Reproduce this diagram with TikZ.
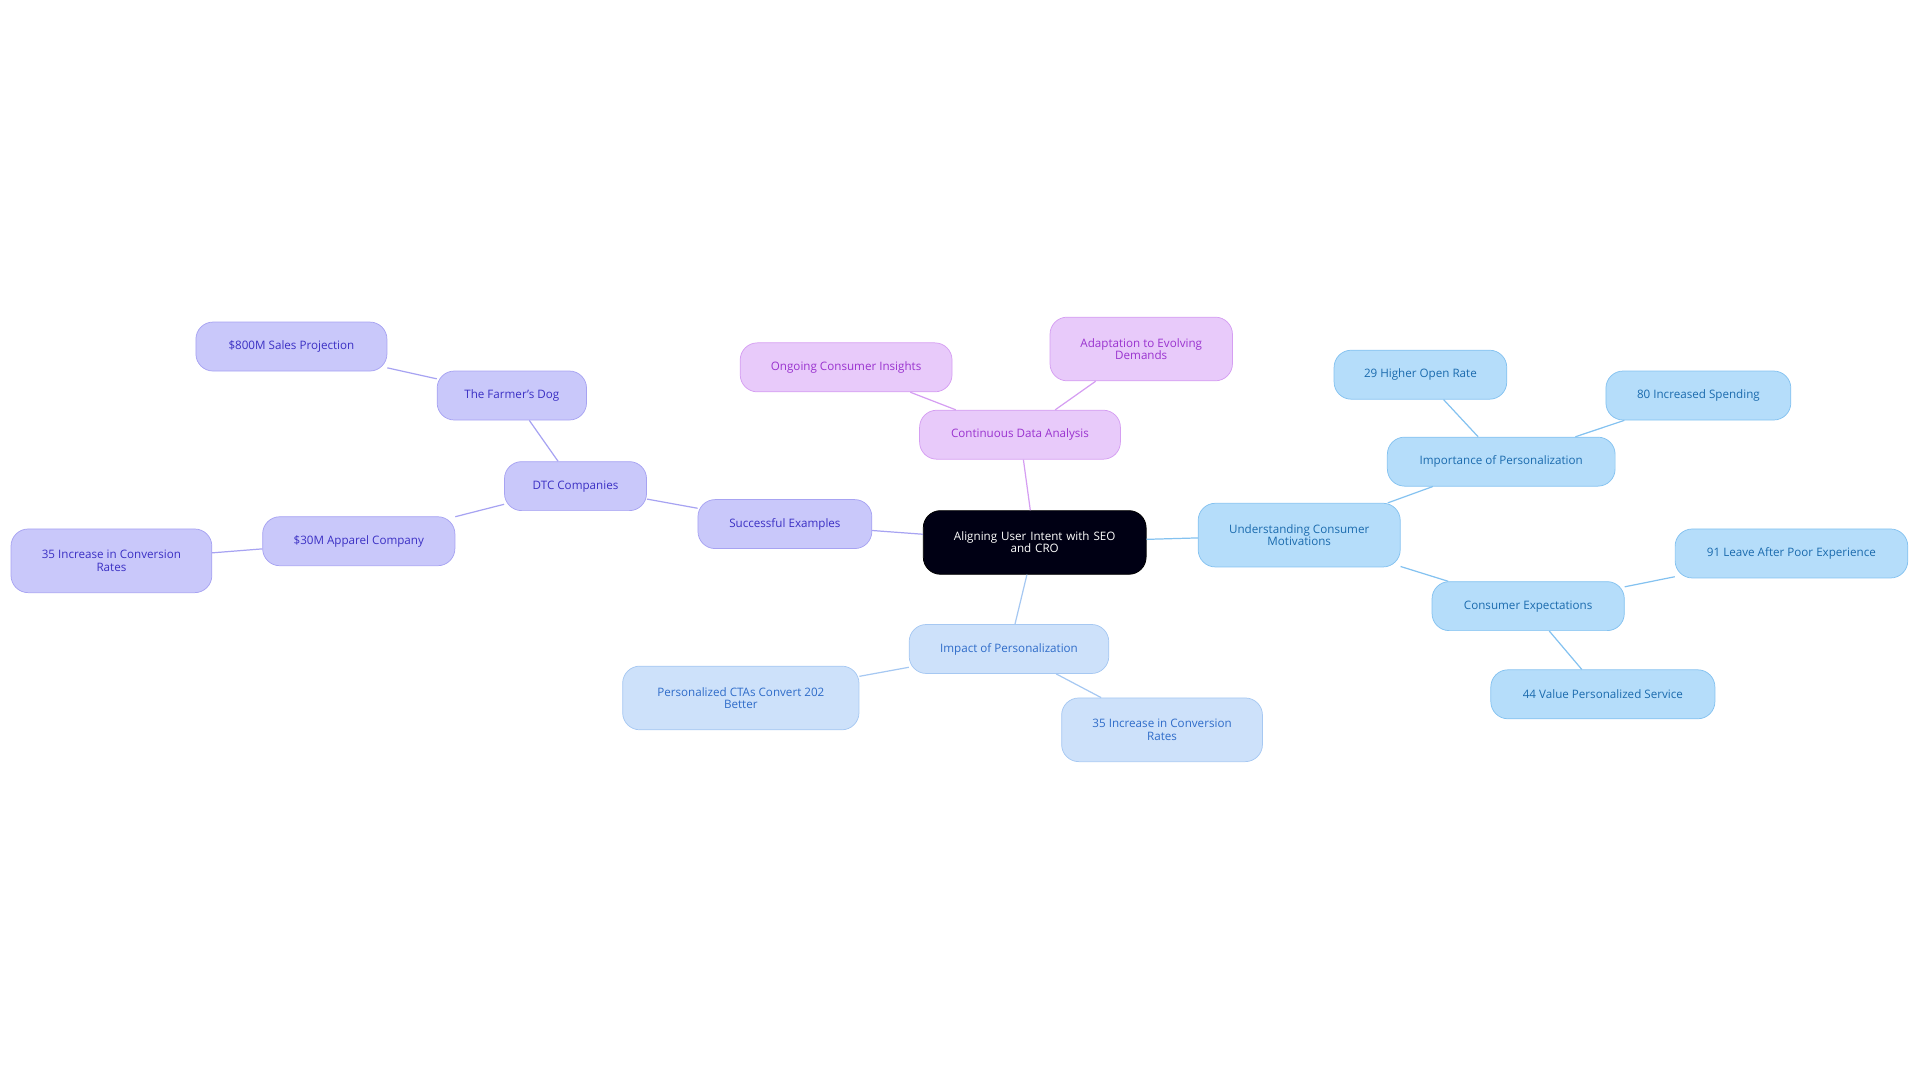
\documentclass[tikz,border=0pt]{standalone}
\usepackage{fontspec}
\setmainfont{Open Sans}
\begin{document}
\begin{tikzpicture}[x=1pt,y=-1pt,
 base/.style={rounded corners=14pt,draw,line width=0.6pt,inner sep=0pt,minimum height=40pt,align=center,font=\fontsize{9.5}{10}\selectfont},
 pb/.style={base,fill=pbF,draw=pbD,text=pbT},
 pk/.style={base,fill=pkF,draw=pkD,text=pkT},
 lb/.style={base,fill=lbF,draw=lbD,text=lbT},
 ip/.style={base,fill=ipF,draw=ipD,text=ipT},
 e/.style={line width=1pt}]
\definecolor{pbF}{HTML}{C9C8FA}\definecolor{pbD}{HTML}{A7A3F2}\definecolor{pbT}{HTML}{3B30C4}
\definecolor{pkF}{HTML}{E8CAFA}\definecolor{pkD}{HTML}{D59EF2}\definecolor{pkT}{HTML}{9A33CF}
\definecolor{lbF}{HTML}{B5DDFA}\definecolor{lbD}{HTML}{84C2F0}\definecolor{lbT}{HTML}{1B6BAE}
\definecolor{ipF}{HTML}{CDE1FA}\definecolor{ipD}{HTML}{A6C8F2}\definecolor{ipT}{HTML}{2F6CC9}
\useasboundingbox (0,0) rectangle (1568,884);
\node[base,fill=black!92!blue,draw=black,text=white,minimum width=182pt,minimum height=52pt,text width=160pt] (r) at (845,443) {Aligning User Intent with SEO\\and CRO};
\node[pb,minimum width=142pt] (se) at (641,428) {Successful Examples};
\node[pb,minimum width=116pt] (dtc) at (470,397) {DTC Companies};
\node[pb,minimum width=122pt] (fd) at (418,323) {The Farmer's Dog};
\node[pb,minimum width=156pt] (s8) at (238,283) {\$800M Sales Projection};
\node[pb,minimum width=157pt] (ap) at (293,442) {\$30M Apparel Company};
\node[pb,minimum width=164pt,minimum height=52pt] (l35) at (91,458) {35 Increase in Conversion\\Rates};
\node[pk,minimum width=164pt] (cd) at (833,355) {Continuous Data Analysis};
\node[pk,minimum width=173pt] (oc) at (691,300) {Ongoing Consumer Insights};
\node[pk,minimum width=149pt,minimum height=52pt] (ad) at (932,285) {Adaptation to Evolving\\Demands};
\node[lb,minimum width=165pt,minimum height=52pt] (uc) at (1061,437) {Understanding Consumer\\Motivations};
\node[lb,minimum width=186pt] (ip) at (1226,377) {Importance of Personalization};
\node[lb,minimum width=141pt] (h29) at (1160,306) {29 Higher Open Rate};
\node[lb,minimum width=151pt] (s80) at (1387,323) {80 Increased Spending};
\node[lb,minimum width=157pt] (ce) at (1248,495) {Consumer Expectations};
\node[lb,minimum width=190pt] (l91) at (1463,452) {91 Leave After Poor Experience};
\node[lb,minimum width=183pt] (v44) at (1309,567) {44 Value Personalized Service};
\node[ip,minimum width=163pt] (im) at (824,530) {Impact of Personalization};
\node[ip,minimum width=193pt,minimum height=52pt] (ct) at (605,570) {Personalized CTAs Convert 202\\Better};
\node[ip,minimum width=164pt,minimum height=52pt] (r35) at (949,596) {35 Increase in Conversion\\Rates};
\begin{scope}[on background layer/.style={}]
\end{scope}
\draw[e,pbD] (r)--(se) (se)--(dtc) (dtc)--(fd) (fd)--(s8) (dtc)--(ap) (ap)--(l35);
\draw[e,pkD] (r)--(cd) (cd)--(oc) (cd)--(ad);
\draw[e,lbD] (r)--(uc) (uc)--(ip) (ip)--(h29) (ip)--(s80) (uc)--(ce) (ce)--(l91) (ce)--(v44);
\draw[e,ipD] (r)--(im) (im)--(ct) (im)--(r35);
\end{tikzpicture}
\end{document}
